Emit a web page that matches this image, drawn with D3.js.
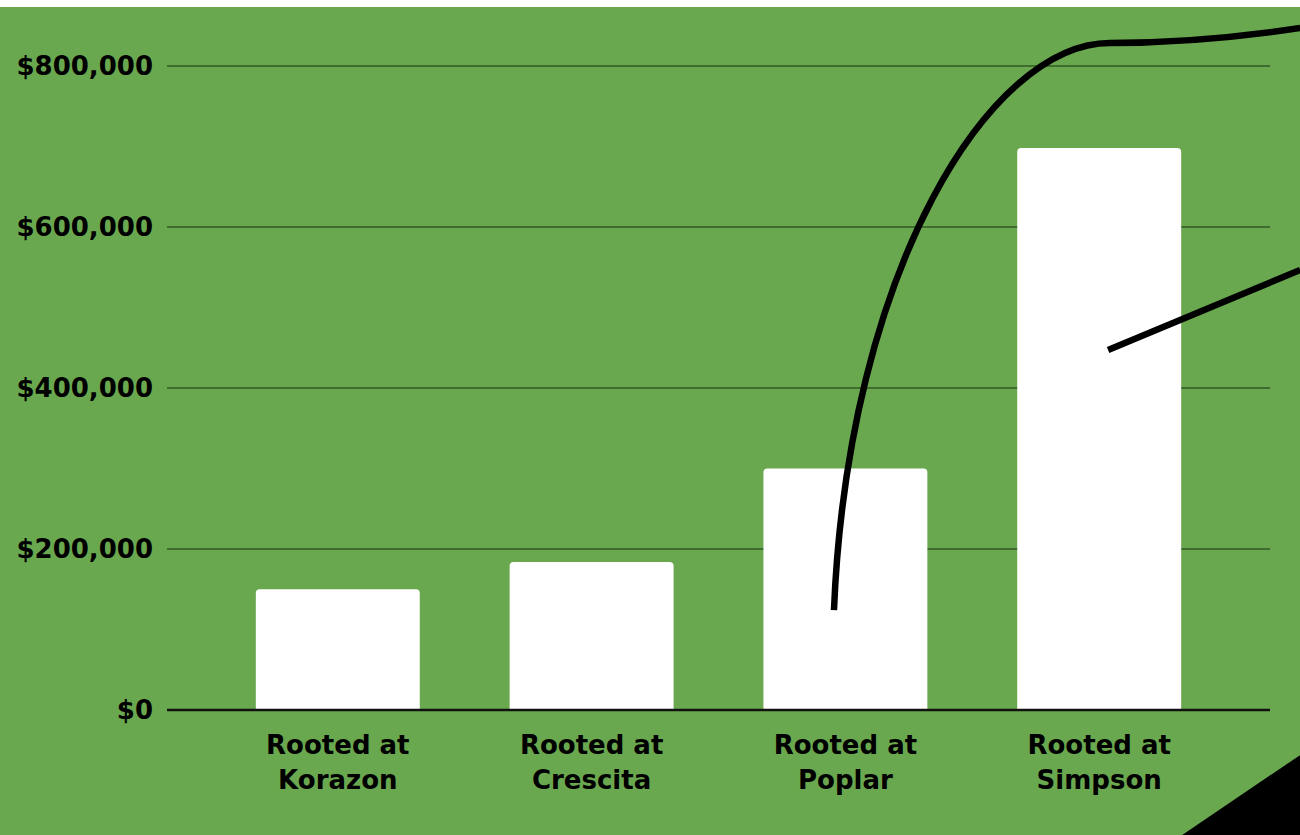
<!DOCTYPE html>
<html>
<head>
<meta charset="utf-8">
<script src="https://cdn.jsdelivr.net/npm/d3@7"></script>
<style>
  body { margin: 0; background: #ffffff; }
  svg { display: block; }
  text { font-family: "DejaVu Sans", Verdana, sans-serif; font-weight: bold; }
</style>
</head>
<body>
<svg id="chart"></svg>
<script>
// data
var categories = ["Rooted at|Korazon", "Rooted at|Crescita", "Rooted at|Poplar", "Rooted at|Simpson"];
var values = [150000, 184000, 300000, 698000];
var yTicks = [0, 200000, 400000, 600000, 800000];

// hand drawn annotation strokes, in (category index, dollars)
// curve: start point then two cubic bezier segments (c1, c2, end)
var curveIdx = [1.955, 2.010, 2.570, 3.043, 3.319, 3.556, 3.792];
var curveVal = [124200, 546600, 828600, 828600, 828600, 836000, 847200];
var strokeIdx = [3.035, 3.792];
var strokeVal = [447200, 546600];
var triIdx = [3.327, 3.792, 3.792];
var triVal = [-155300, -55900, -155300];

var W = 1300, H = 835;
var margin = {top: 66, right: 30, bottom: 125, left: 167},
    width = W - margin.left - margin.right,
    height = H - margin.top - margin.bottom;

var svg = d3.select("#chart").attr("width", W).attr("height", H);

// background (white strip at top, rest green)
svg.append("rect").attr("x", 0).attr("y", 0).attr("width", W).attr("height", H).attr("fill", "#ffffff");
svg.append("rect").attr("x", 0).attr("y", 7).attr("width", W).attr("height", H - 7).attr("fill", "#6aa84f");

var g = svg.append("g").attr("transform", "translate(" + margin.left + "," + margin.top + ")");

var x = d3.scaleBand().domain(categories).range([0, width]).paddingInner(0.354).paddingOuter(0.35);
var y = d3.scaleLinear().domain([0, 800000]).range([height, 0]);

// index scale for annotations
var xi = d3.scaleLinear().domain([0, 3])
  .range([x(categories[0]) + x.bandwidth() / 2, x(categories[3]) + x.bandwidth() / 2]);

// gridlines
g.selectAll(".grid").data(yTicks.slice(1)).enter().append("line")
  .attr("x1", 0).attr("x2", width)
  .attr("y1", function(d) { return y(d); })
  .attr("y2", function(d) { return y(d); })
  .attr("stroke", "#3f6d2f").attr("stroke-width", 2);

// y tick labels
g.selectAll(".ylab").data(yTicks).enter().append("text")
  .attr("x", -14)
  .attr("y", function(d) { return y(d); })
  .attr("dy", "0.36em")
  .attr("text-anchor", "end")
  .style("font-size", "26px")
  .attr("fill", "#000")
  .text(function(d) { return "$" + d3.format(",")(d); });

// bars, rounded at the top only
var r = 4;
g.selectAll(".bar").data(values).enter().append("path")
  .attr("fill", "#ffffff")
  .attr("d", function(d, i) {
    var x0 = x(categories[i]), x1 = x0 + x.bandwidth(), y0 = y(d), yb = y(0);
    return "M" + x0 + "," + yb + "V" + (y0 + r) + "Q" + x0 + "," + y0 + " " + (x0 + r) + "," + y0 +
      "H" + (x1 - r) + "Q" + x1 + "," + y0 + " " + x1 + "," + (y0 + r) + "V" + yb + "Z";
  });

// baseline
g.append("line").attr("x1", 0).attr("x2", width)
  .attr("y1", y(0)).attr("y2", y(0))
  .attr("stroke", "#111").attr("stroke-width", 2.5);

// x labels (two lines)
var xl = g.selectAll(".xlab").data(categories).enter().append("text")
  .attr("text-anchor", "middle")
  .style("font-size", "26px")
  .attr("fill", "#000")
  .attr("transform", function(d) { return "translate(" + (x(d) + x.bandwidth() / 2) + "," + (y(0) + 44) + ")"; });
xl.selectAll("tspan").data(function(d) { return d.split("|"); }).enter().append("tspan")
  .attr("x", 0)
  .attr("dy", function(d, i) { return i ? 35 : 0; })
  .text(function(d) { return d; });

// annotations
var cx = curveIdx.map(function(d) { return xi(d); });
var cy = curveVal.map(function(d) { return y(d); });
var p = d3.path();
p.moveTo(cx[0], cy[0]);
for (var i = 1; i + 2 < cx.length; i += 3) {
  p.bezierCurveTo(cx[i], cy[i], cx[i + 1], cy[i + 1], cx[i + 2], cy[i + 2]);
}
g.append("path")
  .attr("d", p.toString())
  .attr("fill", "none").attr("stroke", "#000").attr("stroke-width", 6.5);

var pt = d3.line()
  .x(function(d) { return xi(d[0]); })
  .y(function(d) { return y(d[1]); });

g.append("path")
  .datum(d3.zip(strokeIdx, strokeVal))
  .attr("d", pt)
  .attr("fill", "none").attr("stroke", "#000").attr("stroke-width", 6.5);

g.append("path")
  .datum(d3.zip(triIdx, triVal))
  .attr("d", pt.curve(d3.curveLinearClosed))
  .attr("fill", "#000");
</script>
</body>
</html>
